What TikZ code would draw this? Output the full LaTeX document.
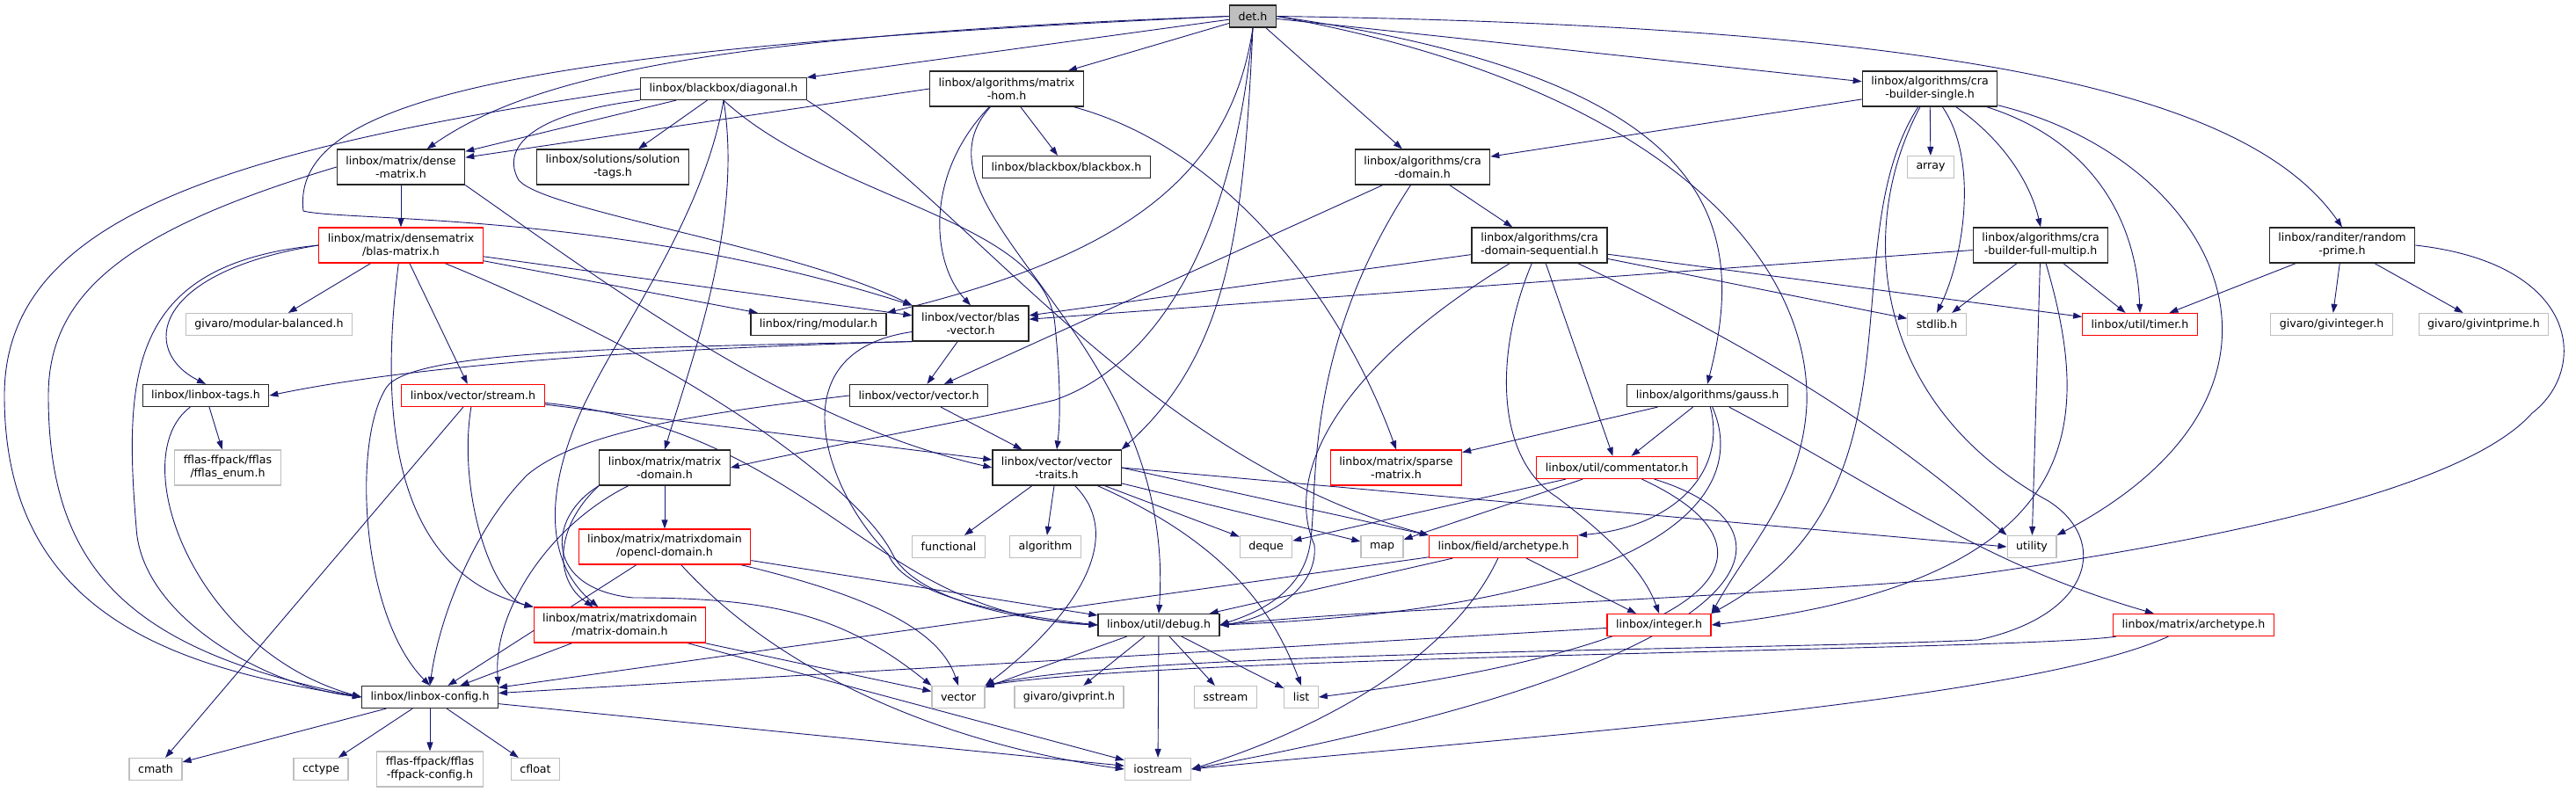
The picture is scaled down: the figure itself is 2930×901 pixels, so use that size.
\documentclass[tikz,border=0pt]{standalone}
\usepackage{fontspec}
\setmainfont{DejaVu Sans}
\usetikzlibrary{arrows.meta,positioning,backgrounds}
\definecolor{DoxEdge}{HTML}{191970}
\definecolor{DoxGrey}{HTML}{BFBFBF}
\definecolor{DoxFill}{HTML}{BFBFBF}

\begin{document}
\begin{tikzpicture}[x=1pt,y=-1pt,>=Latex,
 hdr/.style={draw=black!85,fill=white,line width=1.2pt,minimum height=25pt,
  align=center,inner xsep=10pt,inner ysep=2pt,
  font=\fontsize{12.6}{15}\selectfont},
 sys/.style={hdr,draw=DoxGrey},
 trunc/.style={hdr,draw=red},
 tall/.style={minimum height=40pt},
 inc/.style={draw=DoxEdge,line width=0.9pt,-{Triangle[length=10pt,width=7pt]}}]
 \useasboundingbox (0,0) rectangle (2930,901);

 % row 0 and 1
 \node[hdr,fill=DoxFill] (det) at (1425,18.5) {det.h};
 \node[hdr] (diag) at (823,101) {linbox/blackbox/diagonal.h};
 \node[hdr,tall] (mhom) at (1145,101) {linbox/algorithms/matrix\\-hom.h};
 \node[hdr,tall] (crasingle) at (2195,101) {linbox/algorithms/cra\\-builder-single.h};
 % row 2
 \node[hdr,tall] (dense) at (456,190) {linbox/matrix/dense\\-matrix.h};
 \node[hdr,tall] (soltags) at (697,190) {linbox/solutions/solution\\-tags.h};
 \node[hdr] (bbox) at (1213,190) {linbox/blackbox/blackbox.h};
 \node[hdr,tall] (cradom) at (1618,190) {linbox/algorithms/cra\\-domain.h};
 \node[sys] (array) at (2196,190) {array};
 % row 3
 \node[trunc,tall] (blasmat) at (456,279) {linbox/matrix/densematrix\\/blas-matrix.h};
 \node[hdr,tall] (craseq) at (1751,279) {linbox/algorithms/cra\\-domain-sequential.h};
 \node[hdr,tall] (crafull) at (2321,279) {linbox/algorithms/cra\\-builder-full-multip.h};
 \node[hdr,tall] (randprime) at (2664,279) {linbox/randiter/random\\-prime.h};
 % row 4
 \node[sys] (modbal) at (306,369) {givaro/modular-balanced.h};
 \node[hdr] (modular) at (931,369) {linbox/ring/modular.h};
 \node[hdr,tall] (blasvec) at (1104,368) {linbox/vector/blas\\-vector.h};
 \node[sys] (stdlib) at (2203,369) {stdlib.h};
 \node[trunc] (timer) at (2434,369) {linbox/util/timer.h};
 \node[sys] (givint) at (2652,369) {givaro/givinteger.h};
 \node[sys] (givprime) at (2825,369) {givaro/givintprime.h};
 % row 5
 \node[hdr] (tags) at (234,450) {linbox/linbox-tags.h};
 \node[trunc] (stream) at (538,450) {linbox/vector/stream.h};
 \node[hdr] (vectorh) at (1045,450) {linbox/vector/vector.h};
 \node[hdr] (gauss) at (1942,450) {linbox/algorithms/gauss.h};
 % row 6
 \node[sys,tall] (fflasenum) at (259,532) {fflas-ffpack/fflas\\/fflas\_enum.h};
 \node[hdr,tall] (mm) at (756,532) {linbox/matrix/matrix\\-domain.h};
 \node[hdr,tall] (vtraits) at (1202,532) {linbox/vector/vector\\-traits.h};
 \node[trunc,tall] (sparse) at (1588,532) {linbox/matrix/sparse\\-matrix.h};
 \node[trunc] (comment) at (1839,532) {linbox/util/commentator.h};
 % row 7
 \node[trunc,tall] (opencl) at (756,622) {linbox/matrix/matrixdomain\\/opencl-domain.h};
 \node[sys] (functional) at (1079,622) {functional};
 \node[sys] (algorithm) at (1189,622) {algorithm};
 \node[sys] (deque) at (1440,622) {deque};
 \node[sys] (map) at (1572,622) {map};
 \node[trunc] (fieldarch) at (1710,622) {linbox/field/archetype.h};
 \node[sys] (utility) at (2311,622) {utility};
 % row 8
 \node[trunc,tall] (mdom) at (705,711) {linbox/matrix/matrixdomain\\/matrix-domain.h};
 \node[hdr] (debug) at (1318,711) {linbox/util/debug.h};
 \node[trunc] (integer) at (1887,711) {linbox/integer.h};
 \node[trunc] (march) at (2495,711) {linbox/matrix/archetype.h};
 % row 9
 \node[hdr] (config) at (489,793) {linbox/linbox-config.h};
 \node[sys] (vec) at (1090,793) {vector};
 \node[sys] (givprint) at (1216,793) {givaro/givprint.h};
 \node[sys] (sstream) at (1394,793) {sstream};
 \node[sys] (list) at (1480,793) {list};
 % row 10
 \node[sys] (cmath) at (177,875) {cmath};
 \node[sys] (cctype) at (365,875) {cctype};
 \node[sys,tall] (fflascfg) at (489,875) {fflas-ffpack/fflas\\-ffpack-config.h};
 \node[sys] (cfloat) at (609,875) {cfloat};
 \node[sys] (iostream) at (1317,875) {iostream};

 \begin{scope}[on background layer]
 % det.h
 \draw[inc] (det) -- (diag);
 \draw[inc] (det) -- (mhom);
 \draw[inc] (det.west) .. controls (800,40) and (600,90) .. (dense);
 \draw[inc] (det.west) .. controls (600,55) and (330,110) .. (345,240) .. controls (390,252) and (700,240) .. (blasvec.north west);
 \draw[inc] (det.south) .. controls (1400,200) and (1280,290) .. (modular.north east);
 \draw[inc] (det.south) .. controls (1415,250) and (1400,400) .. (vtraits.north east);
 \draw[inc] (det.south) .. controls (1400,300) and (1300,420) .. (1200,455) .. controls (1100,480) and (950,505) .. (mm.east);
 \draw[inc] (det) -- (cradom);
 \draw[inc] (det) -- (crasingle);
 \draw[inc] (det.east) .. controls (2250,30) and (2560,110) .. (randprime.north);
 \draw[inc] (det.east) .. controls (1950,90) and (1990,250) .. (gauss.north);
 \draw[inc] (det.east) .. controls (1900,100) and (2060,300) .. (2055,460) .. controls (2050,560) and (1990,620) .. (integer.north east);

 % diagonal.h
 \draw[inc] (diag) -- (soltags);
 \draw[inc] (diag) -- (dense);
 \draw[inc] (diag.west) .. controls (250,170) and (5,250) .. (5,450) .. controls (5,700) and (200,760) .. (config.west);
 \draw[inc] (diag.south west) .. controls (600,130) and (570,170) .. (590,205) .. controls (620,240) and (900,280) .. (blasvec.north west);
 \draw[inc] (diag.south) .. controls (845,250) and (790,400) .. (mm.north);
 \draw[inc] (diag.south) .. controls (950,230) and (1190,250) .. (1200,370) .. controls (1205,420) and (1207,470) .. (vtraits.north);
 \draw[inc] (diag.south) .. controls (800,250) and (700,380) .. (660,470) .. controls (620,560) and (620,640) .. (mdom);
 \draw[inc] (diag.south east) .. controls (1100,230) and (1300,520) .. (fieldarch.north west);

 % matrix-hom.h
 \draw[inc] (mhom.west) -- (dense);
 \draw[inc] (mhom) .. controls (1050,200) and (1060,300) .. (blasvec.north);
 \draw[inc] (mhom) -- (bbox);
 \draw[inc] (mhom) .. controls (1400,170) and (1530,350) .. (sparse.north);
 \draw[inc] (mhom) .. controls (1020,240) and (1340,380) .. (debug.north);

 % dense-matrix.h
 \draw[inc] (dense) -- (blasmat);
 \draw[inc] (dense.west) .. controls (150,260) and (55,330) .. (55,450) .. controls (55,650) and (150,740) .. (config.west);
 \draw[inc] (dense.south east) .. controls (700,330) and (900,480) .. (vtraits.west);

 % blas-matrix.h
 \draw[inc] (blasmat) -- (modbal);
 \draw[inc] (blasmat.west) .. controls (170,310) and (160,400) .. (tags.north);
 \draw[inc] (blasmat.west) .. controls (150,300) and (140,420) .. (155,600) .. controls (160,700) and (300,780) .. (config.west);
 \draw[inc] (blasmat) -- (stream);
 \draw[inc] (blasmat) -- (modular);
 \draw[inc] (blasmat) -- (blasvec);
 \draw[inc] (blasmat) .. controls (800,420) and (980,560) .. (1015,630) .. controls (1040,680) and (1150,705) .. (debug.west);
 \draw[inc] (blasmat) .. controls (430,480) and (450,650) .. (mdom.north west);

 % blas-vector.h
 \draw[inc] (blasvec) -- (vectorh);
 \draw[inc] (blasvec.south west) .. controls (800,395) and (500,410) .. (tags.east);
 \draw[inc] (blasvec.south west) .. controls (700,395) and (470,400) .. (440,440) .. controls (400,500) and (410,700) .. (config.north);
 \draw[inc] (blasvec) .. controls (880,400) and (940,560) .. (1010,630) .. controls (1030,680) and (1150,700) .. (debug.west);

 % vector.h
 \draw[inc] (vectorh) -- (vtraits);
 \draw[inc] (vectorh.west) .. controls (800,470) and (660,490) .. (600,540) .. controls (540,600) and (500,700) .. (config.north);

 % cra-domain.h
 \draw[inc] (cradom) -- (craseq);
 \draw[inc] (cradom) -- (vectorh);
 \draw[inc] (cradom) .. controls (1480,400) and (1500,560) .. (1490,620) .. controls (1480,680) and (1420,700) .. (debug.east);

 % cra-domain-sequential.h
 \draw[inc] (craseq) -- (blasvec);
 \draw[inc] (craseq) -- (stdlib);
 \draw[inc] (craseq) -- (timer);
 \draw[inc] (craseq) -- (comment);
 \draw[inc] (craseq) .. controls (1700,400) and (1700,520) .. (1770,565) .. controls (1830,610) and (1870,650) .. (integer.north);
 \draw[inc] (craseq) .. controls (1520,420) and (1460,540) .. (1495,620) .. controls (1500,670) and (1440,705) .. (debug.east);
 \draw[inc] (craseq) .. controls (2050,420) and (2180,520) .. (utility.north west);

 % cra-builder-single.h
 \draw[inc] (crasingle) -- (cradom);
 \draw[inc] (crasingle) -- (array);
 \draw[inc] (crasingle) .. controls (2250,180) and (2235,290) .. (stdlib.north);
 \draw[inc] (crasingle) .. controls (2380,160) and (2430,250) .. (timer.north);
 \draw[inc] (crasingle) .. controls (2280,160) and (2310,210) .. (crafull.north);
 \draw[inc] (crasingle) .. controls (2520,180) and (2660,440) .. (utility.north east);
 \draw[inc] (crasingle) .. controls (2080,280) and (2200,560) .. (integer.north east);
 \draw[inc] (crasingle) .. controls (2110,260) and (2130,460) .. (2330,570) .. controls (2400,615) and (2380,700) .. (2250,728) .. controls (2000,740) and (1300,740) .. (vec.north east);

 % cra-builder-full-multip.h
 \draw[inc] (crafull) -- (blasvec);
 \draw[inc] (crafull) -- (stdlib);
 \draw[inc] (crafull) -- (timer);
 \draw[inc] (crafull) -- (utility);
 \draw[inc] (crafull) .. controls (2380,480) and (2380,660) .. (integer.east);

 % random-prime.h
 \draw[inc] (randprime) -- (timer);
 \draw[inc] (randprime) -- (givint);
 \draw[inc] (randprime) -- (givprime);
 \draw[inc] (randprime.east) .. controls (2935,300) and (2945,420) .. (2880,470) .. controls (2800,560) and (2500,620) .. (2200,660) .. controls (1800,690) and (1600,690) .. (debug.east);

 % gauss.h
 \draw[inc] (gauss) -- (sparse);
 \draw[inc] (gauss) -- (comment);
 \draw[inc] (gauss) .. controls (1965,540) and (1900,600) .. (fieldarch.north east);
 \draw[inc] (gauss) .. controls (1990,560) and (1900,690) .. (debug.east);
 \draw[inc] (gauss) .. controls (2150,560) and (2250,640) .. (march);

 % commentator.h
 \draw[inc] (comment) -- (deque);
 \draw[inc] (comment) -- (map);
 \draw[inc] (comment) .. controls (2030,620) and (1990,730) .. (list.east);
 \draw[inc] (comment) .. controls (2060,600) and (2030,750) .. (iostream.east);

 % field/archetype.h
 \draw[inc] (fieldarch) -- (config);
 \draw[inc] (fieldarch) -- (debug);
 \draw[inc] (fieldarch) -- (integer);
 \draw[inc] (fieldarch) .. controls (1650,750) and (1500,830) .. (iostream.east);

 % integer.h and matrix/archetype.h
 \draw[inc] (integer) -- (config);
 \draw[inc] (march) .. controls (2300,740) and (1350,745) .. (vec.north east);
 \draw[inc] (march) .. controls (2300,800) and (1700,840) .. (iostream.east);

 % matrix/matrix-domain.h
 \draw[inc] (mm) -- (opencl);
 \draw[inc] (mm.south west) .. controls (630,600) and (630,660) .. (mdom);
 \draw[inc] (mm) .. controls (620,600) and (560,700) .. (config.north east);
 \draw[inc] (mm.south west) .. controls (620,590) and (620,670) .. (720,680) .. controls (880,680) and (960,700) .. (vec.north west);

 % opencl-domain.h and matrixdomain/matrix-domain.h
 \draw[inc] (opencl) -- (debug);
 \draw[inc] (opencl) .. controls (1000,680) and (1070,720) .. (vec.north);
 \draw[inc] (opencl) .. controls (900,780) and (1100,850) .. (iostream.west);
 \draw[inc] (opencl) -- (config);
 \draw[inc] (mdom) -- (config);
 \draw[inc] (mdom) -- (vec);
 \draw[inc] (mdom) -- (iostream);

 % stream.h and linbox-tags.h
 \draw[inc] (stream) -- (vtraits);
 \draw[inc] (stream) .. controls (930,490) and (990,700) .. (debug.west);
 \draw[inc] (stream) -- (cmath);
 \draw[inc] (stream) .. controls (520,560) and (560,680) .. (mdom.north west);
 \draw[inc] (tags) -- (fflasenum);
 \draw[inc] (tags) .. controls (140,520) and (220,740) .. (config.west);

 % vector-traits.h
 \draw[inc] (vtraits) -- (functional);
 \draw[inc] (vtraits) -- (algorithm);
 \draw[inc] (vtraits) -- (deque);
 \draw[inc] (vtraits) -- (map);
 \draw[inc] (vtraits) .. controls (1290,620) and (1200,720) .. (vec.north east);
 \draw[inc] (vtraits) .. controls (1400,620) and (1450,700) .. (list.north);
 \draw[inc] (vtraits.east) -- (utility.west);
 \draw[inc] (vtraits.east) -- (fieldarch.north west);

 % debug.h
 \draw[inc] (debug) -- (vec);
 \draw[inc] (debug) -- (givprint);
 \draw[inc] (debug) -- (sstream);
 \draw[inc] (debug) -- (list);
 \draw[inc] (debug) -- (iostream);

 % linbox-config.h
 \draw[inc] (config) -- (cmath);
 \draw[inc] (config) -- (cctype);
 \draw[inc] (config) -- (fflascfg);
 \draw[inc] (config) -- (cfloat);
 \draw[inc] (config) -- (iostream);
 \end{scope}
\end{tikzpicture}
\end{document}
